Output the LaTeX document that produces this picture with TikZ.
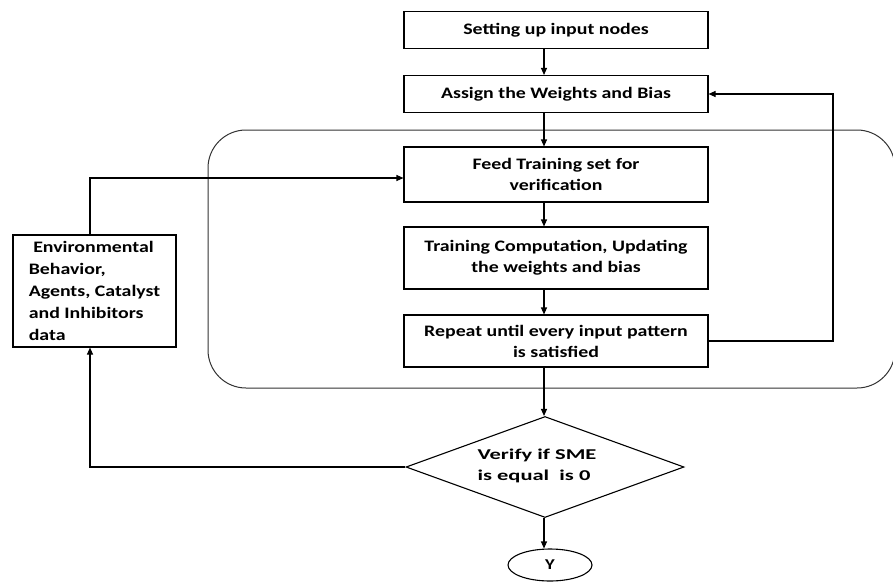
\documentclass[tikz,border=0pt]{standalone}
\usepackage{fontspec}
\setmainfont{Carlito}
\newfontfamily\boxfont[FakeStretch=1.24]{Carlito}
\newfontfamily\dfont[FakeStretch=1.5]{Carlito}
\usetikzlibrary{arrows.meta,shapes.geometric}
\begin{document}
\begin{tikzpicture}[x=1pt,y=-1pt,
  line width=1.1pt,
  >={Triangle[length=7pt,width=6pt]},
  box/.style={draw, rectangle, minimum width=304pt, align=center, inner sep=2pt,
    font=\boxfont\fontsize{16}{21}\selectfont\bfseries},
]
\useasboundingbox (0,0) rectangle (893,581);
\coordinate (axis) at (544,0);
\draw[rounded corners=38pt, line width=1pt, draw=black!80] (208,130) rectangle (895,388);
\node[box, minimum height=37pt] (b1) at (556,30) {Setting up input nodes};
\node[box, minimum height=37pt] (b2) at (556,94) {Assign the Weights and Bias};
\node[box, minimum height=55pt] (b3) at (556,174.5) {Feed Training set for\\verification};
\node[box, minimum height=62pt] (b4) at (556,258) {Training Computation, Updating\\the weights and bias};
\node[box, minimum height=52pt] (b5) at (556,341) {Repeat until every input pattern\\is satisfied};
\node[draw, diamond, minimum width=278pt, minimum height=101pt, inner sep=0pt] (d) at (545,467) {};
\node[align=left, font=\dfont\fontsize{15}{21}\selectfont\bfseries] (dt) at (537,466) {Verify if SME\\is equal\ \ is 0};
\node[draw, ellipse, minimum width=84pt, minimum height=32pt, inner sep=0pt,
  font=\boxfont\fontsize{15}{15}\selectfont\bfseries] (y) at (550,565) {Y};
\node[draw, rectangle, minimum width=163pt, minimum height=112pt,
  align=left, inner sep=0pt, font=\boxfont\fontsize{16}{22}\selectfont\bfseries] (env) at (94.5,291)
  {\ Environmental\\Behavior,\\Agents, Catalyst\\and Inhibitors\\data};
\coordinate (envx) at (90,0);
\coordinate (loopx) at (833,0);
\coordinate (c1) at (90,178);
\draw[->] (b1.south -| axis) -- (b2.north -| axis);
\draw[->] (b2.south -| axis) -- (b3.north -| axis);
\draw[->] (b3.south -| axis) -- (b4.north -| axis);
\draw[->] (b4.south -| axis) -- (b5.north -| axis);
\draw[->] (b5.south -| axis) -- (d.north -| axis);
\draw[->] (d.south -| axis) -- (y.north -| axis);
\draw[->] (b5.east) -- (b5.east -| loopx) -- (b2.east -| loopx) -- (b2.east);
\draw[->] (env.north -| envx) -- (c1) -- (c1 -| b3.west);
\draw[->] (d.west) -- (d.west -| envx) -- (env.south -| envx);
\end{tikzpicture}
\end{document}
